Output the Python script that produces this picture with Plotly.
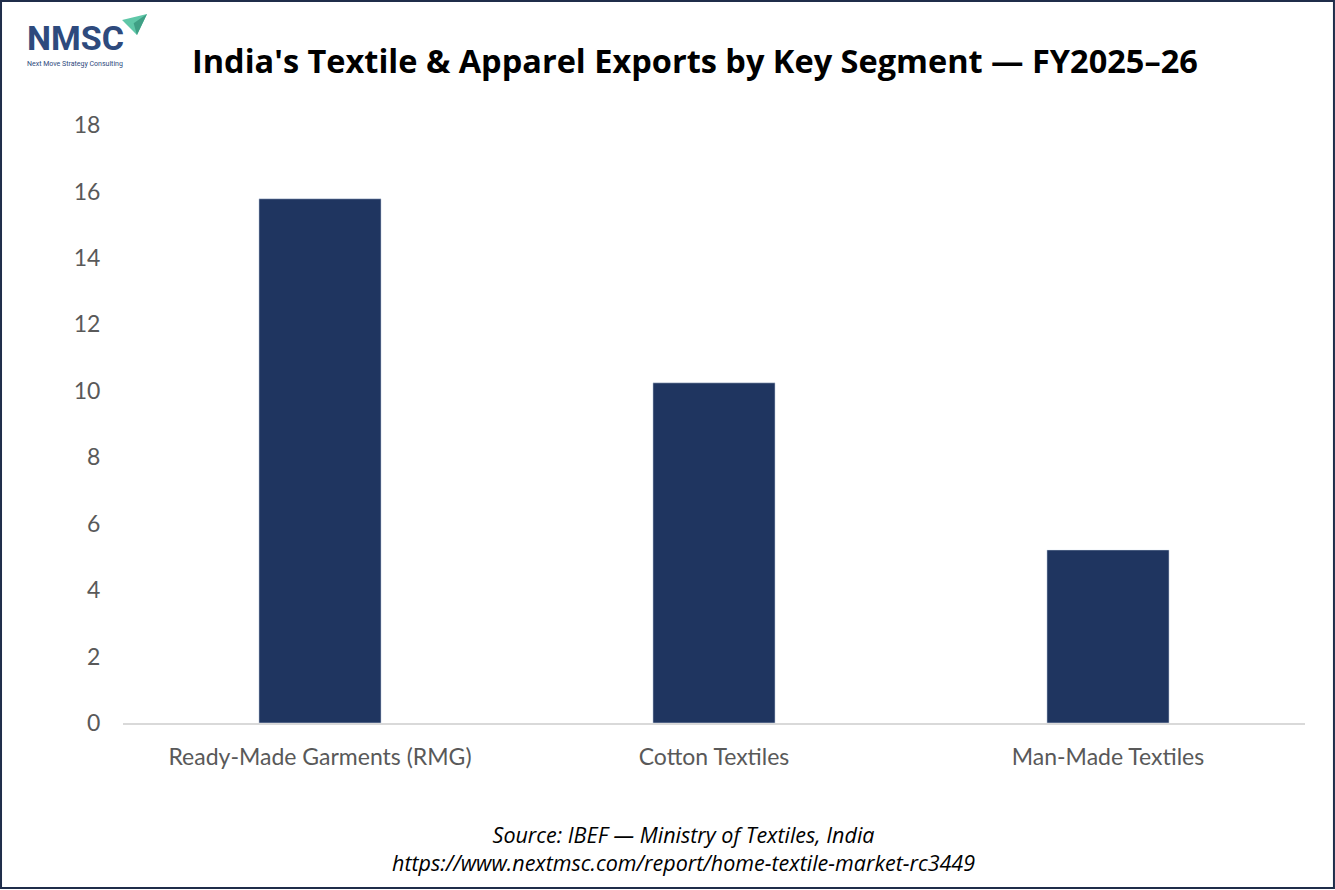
import plotly.graph_objects as go

segments = ["Ready-Made Garments (RMG)", "Cotton Textiles", "Man-Made Textiles"]
exports = [15.78, 10.24, 5.21]
y_ticks = [0, 2, 4, 6, 8, 10, 12, 14, 16, 18]

navy = "#1f3560"
grey = "#595959"

fig = go.Figure(go.Bar(x=segments, y=exports, marker_color=navy, hoverinfo="x+y"))

fig.update_layout(
    width=1335,
    height=890,
    margin=dict(l=123, r=30, t=125, b=167),
    paper_bgcolor="white",
    plot_bgcolor="white",
    bargap=0.69,
    showlegend=False,
    font=dict(family="Lato, Open Sans, sans-serif", color=grey),
)
fig.update_xaxes(
    showgrid=False,
    showline=True,
    linecolor="#d9d9d9",
    linewidth=2,
    tickfont=dict(size=23, color=grey),
    ticks="outside",
    ticklen=12,
    tickcolor="rgba(0,0,0,0)",
)
fig.update_yaxes(
    range=[0, 18],
    tickvals=y_ticks,
    showgrid=False,
    zeroline=False,
    tickfont=dict(size=23, color=grey),
    ticks="outside",
    ticklen=17,
    tickcolor="rgba(0,0,0,0)",
)

# title
fig.add_annotation(
    text="<b>India's Textile & Apparel Exports by Key Segment — FY2025–26</b>",
    xref="paper", yref="paper", x=0.4839, y=1.0, yshift=65,
    xanchor="center", yanchor="middle", showarrow=False,
    font=dict(size=32.5, color="black", family="Open Sans, sans-serif"),
)

# source
fig.add_annotation(
    text="<i>Source: IBEF — Ministry of Textiles, India</i><br><i>https://www.nextmsc.com/report/home-textile-market-rc3449</i>",
    xref="paper", yref="paper", x=0.4738, y=0, yshift=-125,
    xanchor="center", yanchor="middle", showarrow=False,
    font=dict(size=21.5, color="black", family="Open Sans, sans-serif"),
)

# logo
fig.add_annotation(
    text="<b>NMSC</b>", xref="paper", yref="paper",
    x=-0.0829, y=1.0, yshift=87, xanchor="left", yanchor="middle",
    showarrow=False,
    font=dict(size=34, color="#2e4a7d", family="Roboto, sans-serif"),
)
fig.add_annotation(
    text="Next Move Strategy Consulting", xref="paper", yref="paper",
    x=-0.0829, y=1.0, yshift=61, xanchor="left", yanchor="middle",
    showarrow=False,
    font=dict(size=7, color="#2e4a7d", family="Roboto, sans-serif"),
)
fig.add_shape(
    type="path", xref="paper", yref="paper",
    path="M -0.0008 1.1756 L 0.0203 1.1856 L 0.0118 1.1505 Z",
    fillcolor="#5fc7a8", line=dict(width=0),
)
fig.add_shape(
    type="path", xref="paper", yref="paper",
    path="M 0.0090 1.1700 L 0.0203 1.1856 L 0.0118 1.1505 Z",
    fillcolor="#3f9f85", line=dict(width=0),
)

# outer border
fig.add_shape(
    type="rect", xref="paper", yref="paper",
    x0=-0.1032, x1=1.0245, y0=-0.2759, y1=1.2074,
    line=dict(color="#1f2d4a", width=2), fillcolor="rgba(0,0,0,0)",
)

fig.write_html(
    "out.html",
    config={"displayModeBar": False},
    post_script="document.body.style.margin='0';",
)
